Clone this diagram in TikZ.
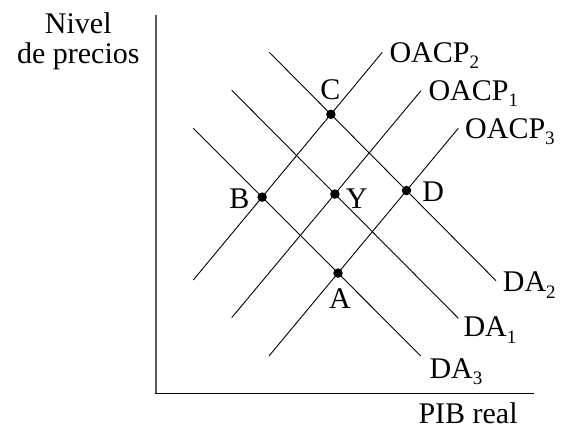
\documentclass[tikz,border=0pt]{standalone}
\usepackage{fontspec}
\setmainfont{Liberation Serif}
\newcommand\lowsub[1]{\raisebox{-0.22em}{\fontsize{19}{20}\selectfont #1}}
\begin{document}
\begin{tikzpicture}[x=1pt,y=-1pt,
  curve/.style={line width=0.9pt, black},
  axisline/.style={line width=1.7pt},
  dot/.style={circle, fill=black, inner sep=0pt, minimum size=9.5pt},
  lbl/.style={font=\fontsize{30}{34}\selectfont, inner sep=0pt},
  ptlbl/.style={font=\fontsize{30}{34}\selectfont, inner sep=0pt, anchor=center}]
\useasboundingbox (0,0) rectangle (563,431);
% axes
\coordinate (origin) at (156,393.5);
\coordinate (ytop) at (156,15);
\coordinate (xend) at (534,393.5);
\draw[axisline, black!65] (origin) -- (ytop);
\draw[axisline] ([xshift=-0.85pt]origin) -- (xend);
% DA curves (down-right)
\coordinate (da2a) at (269.3,52.3);  \coordinate (da2b) at (496,280.7);
\coordinate (da1a) at (231.7,90.2);  \coordinate (da1b) at (458.3,318.2);
\coordinate (da3a) at (193.3,128.2); \coordinate (da3b) at (420.7,355.9);
% OACP curves (up-right)
\coordinate (os2a) at (193.3,280);   \coordinate (os2b) at (382.3,52.3);
\coordinate (os1a) at (231.7,317.7); \coordinate (os1b) at (421,90.7);
\coordinate (os3a) at (269,356);     \coordinate (os3b) at (458.3,128.3);
\draw[curve] (da2a) -- (da2b);
\draw[curve] (da1a) -- (da1b);
\draw[curve] (da3a) -- (da3b);
\draw[curve] (os2a) -- (os2b);
\draw[curve] (os1a) -- (os1b);
\draw[curve] (os3a) -- (os3b);
% equilibrium points
\node[dot] (C) at (intersection of da2a--da2b and os2a--os2b) {};
\node[dot] (B) at (intersection of da3a--da3b and os2a--os2b) {};
\node[dot] (Y) at (intersection of da1a--da1b and os1a--os1b) {};
\node[dot] (D) at (intersection of da2a--da2b and os3a--os3b) {};
\node[dot] (A) at (intersection of da3a--da3b and os3a--os3b) {};
% point labels
\node[ptlbl] (Clbl) at (330.3,89.7) {C};
\node[ptlbl] (Blbl) at (239.5,198.5) {B};
\node[ptlbl] (Ylbl) at (356.7,198.5) {Y};
\node[ptlbl] (Dlbl) at (433.3,191.7) {D};
\node[ptlbl] (Albl) at (340,298.3) {A};
% curve labels
\node[lbl, anchor=base west] (os2lbl) at (389.3,62.3) {OACP\lowsub{2}};
\node[lbl, anchor=base west] (os1lbl) at (428.3,100) {OACP\lowsub{1}};
\node[lbl, anchor=base west] (os3lbl) at (465,138.3) {OACP\lowsub{3}};
\node[lbl, anchor=base west] (da2lbl) at (502.7,291.7) {DA\lowsub{2}};
\node[lbl, anchor=base west] (da1lbl) at (463.3,336.7) {DA\lowsub{1}};
\node[lbl, anchor=base west] (da3lbl) at (429.3,378.3) {DA\lowsub{3}};
% axis labels
\node[lbl, anchor=base] (ylab1) at (78.3,33.3) {Nivel};
\node[lbl, anchor=base] (ylab2) at (78.3,63.3) {de precios};
\node[lbl, anchor=base west] (xlab) at (418.3,423.3) {PIB real};
\end{tikzpicture}
\end{document}
